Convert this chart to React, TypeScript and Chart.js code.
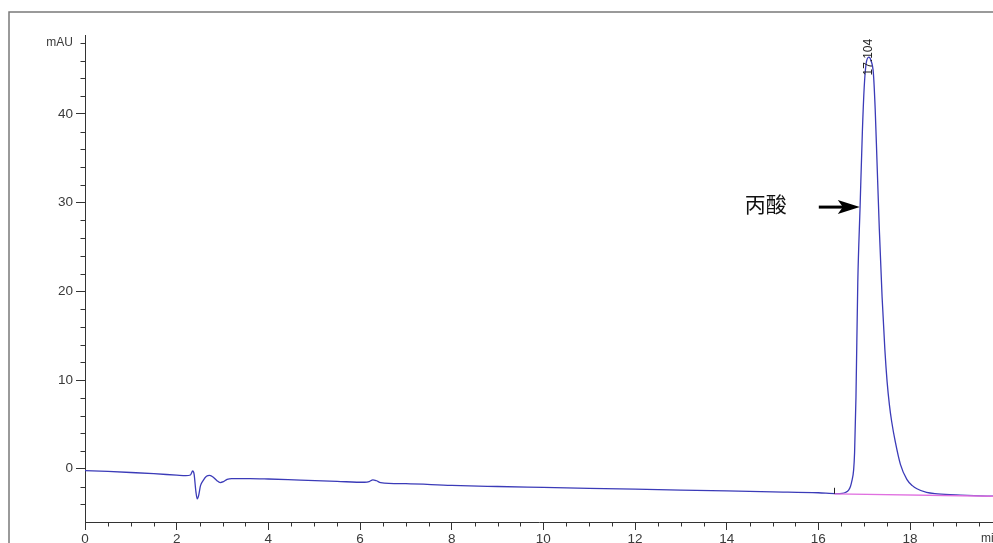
import React, { useEffect, useRef } from 'react';
import { Chart, registerables } from 'chart.js';

Chart.register(...registerables);

// Retention time (min) and detector signal (mAU)
const times = [
  0, 0.5, 1.0, 1.5, 2.0, 2.2, 2.3, 2.35, 2.38, 2.42, 2.45, 2.48, 2.52, 2.58, 2.65, 2.72,
  2.8, 2.88, 2.95, 3.02, 3.1, 3.2, 3.6, 4.0, 4.7, 5.5, 6.1, 6.2, 6.28, 6.36, 6.45, 7.0,
  8.0, 9.0, 10.0, 11.0, 12.0, 13.0, 14.0, 15.0, 16.0, 16.4, 16.52, 16.6, 16.66, 16.7, 16.73,
  16.77, 16.79, 16.82, 16.86, 16.91, 16.96, 17.0, 17.04, 17.1, 17.15, 17.2, 17.24, 17.28, 17.33,
  17.39, 17.45, 17.5, 17.55, 17.6, 17.68, 17.79, 17.93, 18.05, 18.15, 18.36, 18.6,
  19.0, 19.4, 19.81,
];
const signal = [
  -0.2, -0.3, -0.42, -0.55, -0.72, -0.78, -0.7, -0.25, -0.6, -2.6, -3.4, -3.0, -1.9, -1.3, -0.85, -0.75,
  -0.95, -1.35, -1.55, -1.45, -1.2, -1.1, -1.1, -1.15, -1.28, -1.42, -1.52, -1.45, -1.25, -1.35, -1.55, -1.68,
  -1.88, -2.0, -2.1, -2.2, -2.3, -2.4, -2.5, -2.6, -2.7, -2.8, -2.78, -2.65, -2.4, -2.0, -1.4,
  -0.1, 1.8, 8, 21, 29.5, 38, 43, 45.6, 46.4, 46.0, 44.6, 40.5, 34.5, 27,
  19.4, 13.5, 9.8, 7.2, 5.3, 3.0, 0.5, -1.2, -1.9, -2.25, -2.67, -2.82,
  -2.95, -3.02, -3.1,
];

// Integration baseline of the peak
const baselineTimes = [16.35, 19.81];
const baselineValues = [-2.82, -3.1];

const xMajorTicks = [0, 2, 4, 6, 8, 10, 12, 14, 16, 18];
const yMajorTicks = [0, 10, 20, 30, 40];
const xUnitTick = 19.76;
const yUnitTick = 48;
const xUnitLabel = 'min';
const yUnitLabel = 'mAU';

const X_MIN = 0;
const X_MAX = 19.81;
const Y_MIN = -6;
const Y_MAX = 48.9;

const peakTime = 17.104;
const peakHeight = 46.4;
const peakLabel = '17.104';
const peakStartTime = 16.35;
const peakStartValue = -2.82;

const compoundLabel = '丙酸';
const arrowTime = 16.915;
const arrowValue = 29.5;

const AXIS = '#333333';
const TEXT = '#3a3a3a';

const overlayPlugin = {
  id: 'overlay',
  beforeDraw(chart: any) {
    const ctx = chart.ctx;
    ctx.save();
    ctx.strokeStyle = '#7a7a7a';
    ctx.lineWidth = 1.5;
    ctx.beginPath();
    ctx.moveTo(9, chart.height);
    ctx.lineTo(9, 12);
    ctx.lineTo(chart.width, 12);
    ctx.stroke();
    ctx.restore();
  },
  afterDraw(chart: any) {
    const ctx = chart.ctx;
    const xs = chart.scales.x;
    const ys = chart.scales.y;
    const area = chart.chartArea;
    ctx.save();
    // minor ticks
    ctx.strokeStyle = AXIS;
    ctx.lineWidth = 1;
    ctx.beginPath();
    for (let v = Y_MIN + 2; v <= Y_MAX; v += 2) {
      if (v % 10 === 0) continue;
      const py = Math.round(ys.getPixelForValue(v)) + 0.5;
      ctx.moveTo(area.left - 4.5, py);
      ctx.lineTo(area.left, py);
    }
    for (let t = 0.5; t < X_MAX; t += 0.5) {
      if (Math.abs(t % 2) < 1e-6) continue;
      const px = Math.round(xs.getPixelForValue(t)) + 0.5;
      ctx.moveTo(px, area.bottom);
      ctx.lineTo(px, area.bottom + 4.5);
    }
    ctx.stroke();

    // peak start marker
    const sx = Math.round(xs.getPixelForValue(peakStartTime)) + 0.5;
    const sy = ys.getPixelForValue(peakStartValue);
    ctx.strokeStyle = '#222';
    ctx.beginPath();
    ctx.moveTo(sx, sy);
    ctx.lineTo(sx, sy - 6);
    ctx.stroke();

    // peak label (rotated)
    const px = xs.getPixelForValue(peakTime);
    const py = ys.getPixelForValue(peakHeight);
    ctx.translate(px, py);
    ctx.rotate(-Math.PI / 2);
    ctx.fillStyle = '#222';
    ctx.font = '12px "Liberation Sans", Arial, sans-serif';
    ctx.textAlign = 'center';
    ctx.textBaseline = 'middle';
    ctx.fillText(peakLabel, 0, 0);
    ctx.setTransform(1, 0, 0, 1, 0, 0);

    // compound arrow
    const tipX = xs.getPixelForValue(arrowTime) - 0.5;
    const tipY = ys.getPixelForValue(arrowValue);
    ctx.fillStyle = '#000';
    ctx.strokeStyle = '#000';
    ctx.lineWidth = 3;
    ctx.beginPath();
    ctx.moveTo(tipX - 41, tipY);
    ctx.lineTo(tipX - 15, tipY);
    ctx.stroke();
    ctx.beginPath();
    ctx.moveTo(tipX, tipY);
    ctx.lineTo(tipX - 22, tipY - 7);
    ctx.lineTo(tipX - 17, tipY);
    ctx.lineTo(tipX - 22, tipY + 7);
    ctx.closePath();
    ctx.fill();

    ctx.font = '21px "Noto Sans CJK SC", sans-serif';
    ctx.textAlign = 'center';
    ctx.textBaseline = 'middle';
    ctx.fillStyle = '#111';
    ctx.fillText(compoundLabel, tipX - 94, tipY - 3);
    ctx.restore();
  },
};

export default function App() {
  const canvasRef = useRef<HTMLCanvasElement | null>(null);

  useEffect(() => {
    const canvas = canvasRef.current;
    if (!canvas) return;
    const trace = times.map((t, i) => ({ x: t, y: signal[i] }));
    const base = baselineTimes.map((t, i) => ({ x: t, y: baselineValues[i] }));
    const chart = new Chart(canvas, {
      type: 'line',
      data: {
        datasets: [
          {
            label: 'baseline',
            data: base,
            borderColor: '#e070e0',
            borderWidth: 1.3,
            pointRadius: 0,
            fill: false,
          },
          {
            label: 'signal',
            data: trace,
            borderColor: '#3b3bb8',
            borderWidth: 1.3,
            pointRadius: 0,
            fill: false,
            cubicInterpolationMode: 'monotone',
          },
        ],
      },
      options: {
        responsive: false,
        animation: false,
        devicePixelRatio: 1,
        layout: { padding: { top: 35, right: 0, bottom: 0, left: 0 } },
        plugins: {
          legend: { display: false },
          tooltip: { enabled: false },
          title: { display: false },
        },
        scales: {
          x: {
            type: 'linear',
            min: X_MIN,
            max: X_MAX,
            afterBuildTicks: (scale: any) => {
              scale.ticks = [...xMajorTicks, xUnitTick].map((v) => ({ value: v }));
            },
            afterFit: (scale: any) => {
              scale.height = 21;
              scale.paddingLeft = 0;
              scale.paddingRight = 0;
            },
            grid: {
              drawOnChartArea: false,
              drawTicks: true,
              tickLength: 8,
              tickColor: (ctx: any) => (ctx.tick && ctx.tick.value === xUnitTick ? 'rgba(0,0,0,0)' : AXIS),
            },
            border: { display: true, color: AXIS, width: 1 },
            ticks: {
              autoSkip: false,
              maxRotation: 0,
              minRotation: 0,
              padding: 1,
              color: TEXT,
              font: (ctx: any) => ({
                family: '"Liberation Sans", Arial, sans-serif',
                size: ctx.tick && ctx.tick.value === xUnitTick ? 12 : 13.5,
              }),
              callback: (v: any) => (v === xUnitTick ? xUnitLabel : String(v)),
            },
          },
          y: {
            type: 'linear',
            min: Y_MIN,
            max: Y_MAX,
            afterBuildTicks: (scale: any) => {
              scale.ticks = [...yMajorTicks, yUnitTick].map((v) => ({ value: v }));
            },
            afterFit: (scale: any) => {
              scale.width = 85;
              scale.paddingTop = 0;
              scale.paddingBottom = 0;
            },
            grid: {
              drawOnChartArea: false,
              drawTicks: true,
              tickLength: 9,
              tickColor: (ctx: any) => (ctx.tick && ctx.tick.value === yUnitTick ? 'rgba(0,0,0,0)' : AXIS),
            },
            border: { display: true, color: AXIS, width: 1 },
            ticks: {
              autoSkip: false,
              padding: 3,
              color: TEXT,
              font: (ctx: any) => ({
                family: '"Liberation Sans", Arial, sans-serif',
                size: ctx.tick && ctx.tick.value === yUnitTick ? 12 : 13.5,
              }),
              callback: (v: any) => (v === yUnitTick ? yUnitLabel : String(v)),
            },
          },
        },
      },
      plugins: [overlayPlugin],
    } as any);
    return () => chart.destroy();
  }, []);

  return (
    <div style={{ position: 'fixed', left: 0, top: 0, width: 993, height: 543, background: '#fff' }}>
      <canvas ref={canvasRef} width={993} height={543} style={{ display: 'block' }} />
    </div>
  );
}
